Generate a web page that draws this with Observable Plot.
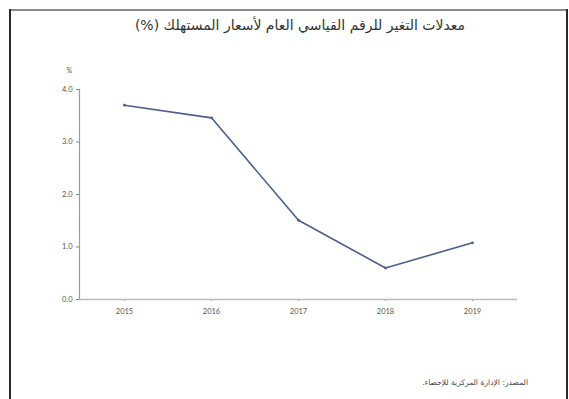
<!DOCTYPE html>
<html>
<head>
<meta charset="utf-8">
<script src="https://cdn.jsdelivr.net/npm/d3@7"></script>
<script src="https://cdn.jsdelivr.net/npm/@observablehq/plot@0.6"></script>
<style>
  body { margin: 0; background: #fff; }
  #wrap { position: relative; width: 569px; height: 399px; overflow: hidden; background: #fff; }
  #wrap svg { position: absolute; left: 0; top: 0; }
  .frame-top { position: absolute; left: 10px; top: 9px; width: 558px; height: 2px; background: #8a8a8a; }
  .frame-left { position: absolute; left: 9px; top: 9px; width: 2px; height: 400px; background: #2a2a2a; }
  .frame-right { position: absolute; left: 566px; top: 9px; width: 2px; height: 400px; background: #2a2a2a; }
  .title { position: absolute; left: 0; width: 600px; top: 17px; text-align: center; font-family: "DejaVu Sans", sans-serif; font-size: 14px; color: #333; direction: rtl; }
  .source { position: absolute; right: 41px; top: 378px; font-family: "DejaVu Sans", sans-serif; font-size: 7.6px; color: #444; direction: rtl; }
</style>
</head>
<body>
<div id="wrap">
  <div class="frame-top"></div>
  <div class="frame-left"></div>
  <div class="frame-right"></div>
  <div class="title">معدلات التغير للرقم القياسي العام لأسعار المستهلك (%)</div>
  <div class="source">المصدر: الإدارة المركزية للإحصاء.</div>
</div>
<script>
const years = ["2015", "2016", "2017", "2018", "2019"];
const values = [3.7, 3.46, 1.51, 0.6, 1.08];
const yTicks = [0, 1, 2, 3, 4];
const unitLabel = "%";

const data = years.map((y, i) => ({year: y, value: values[i]}));

const chart = Plot.plot({
  width: 569,
  height: 399,
  marginLeft: 79,
  marginRight: 52,
  marginTop: 89,
  marginBottom: 100,
  style: {fontFamily: "Lato, sans-serif", fontSize: "7.5px", color: "#555", background: "transparent", overflow: "visible"},
  x: {type: "point", domain: years, padding: 0.5},
  y: {domain: [0, 4]},
  marks: [
    Plot.axisY({ticks: yTicks, tickFormat: d3.format(".1f"), tickSize: 3, tickPadding: 4, label: null, stroke: "#888"}),
    Plot.axisX({tickSize: 2, tickPadding: 7, label: null, stroke: "#888"}),
    Plot.frame({anchor: "left", stroke: "#999", strokeWidth: 1.2}),
    Plot.ruleY([0], {stroke: "#bbb", strokeWidth: 1.5}),
    Plot.text([unitLabel], {frameAnchor: "top-left", dx: -13, dy: -21, text: d => d, fontSize: 7, fill: "#555"}),
    Plot.line(data, {x: "year", y: "value", stroke: "#4b5e8c", strokeWidth: 1.6}),
    Plot.dot(data, {x: "year", y: "value", r: 1.4, fill: "#4b5e8c"})
  ]
});
document.getElementById("wrap").insertBefore(chart, document.getElementById("wrap").firstChild);
</script>
</body>
</html>
